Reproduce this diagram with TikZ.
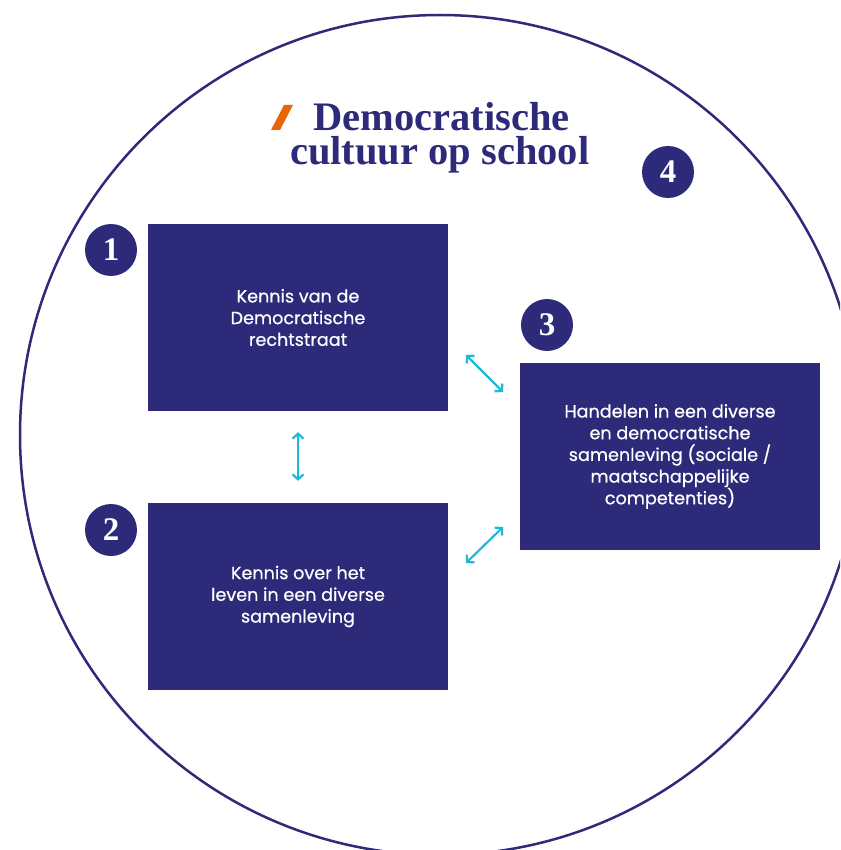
\documentclass[tikz,border=0pt]{standalone}
\usepackage{fontspec}
\setmainfont{Liberation Serif}
\newfontfamily\boxfont[FakeBold=0.6]{Poppins}
\usetikzlibrary{arrows.meta}
\definecolor{indigo}{RGB}{46,42,122}
\definecolor{cyanarrow}{RGB}{30,185,215}
\definecolor{orangeslash}{RGB}{232,101,10}
\begin{document}
\begin{tikzpicture}[x=1pt,y=-1pt,
 box/.style={fill=indigo, minimum width=300pt, minimum height=187pt, inner sep=0pt, text=white, font=\boxfont\fontsize{17.6}{21.7}\selectfont, align=center},
 badge/.style={circle, fill=indigo, minimum size=52pt, inner sep=0pt, text=white, font=\bfseries\fontsize{33}{33}\selectfont},
 link/.style={draw=cyanarrow, line width=2.2pt, {Straight Barb[length=5pt,width=11pt]}-{Straight Barb[length=5pt,width=11pt]}},
 title/.style={text=indigo, font=\bfseries\fontsize{40.5}{34}\selectfont, align=left, inner sep=0pt}]
\useasboundingbox (0,0) rectangle (840,850);
\begin{scope}
\clip (0,0) rectangle (840,850);
\node[draw=indigo, line width=2.5pt, circle, minimum size=840pt, inner sep=0pt] (ring) at (440,435) {};
\end{scope}
% title
\fill[orangeslash] (271,130) -- (280,130) -- (293,105) -- (284,105) -- cycle;
\node[title, anchor=base west] (t) at (290,165) {\hspace*{23pt}Democratische\\cultuur op school};
% boxes
\node[box] (b1) at (298,317.5) {Kennis van de\\Democratische\\rechtstraat};
\node[box] (b2) at (298,596.5) {Kennis over het\\leven in een diverse\\samenleving};
\node[box] (b3) at (670,456.5) {Handelen in een diverse\\en democratische\\samenleving (sociale /\\maatschappelijke\\competenties)};
% badges
\node[badge] (n1) at (111,250) {1};
\node[badge] (n2) at (111,530) {2};
\node[badge] (n3) at (547,325) {3};
\node[badge] (n4) at (668,172) {4};
% connectors
\coordinate (p1) at (466,355);
\coordinate (q1) at (503,392);
\coordinate (p2) at (466,563);
\coordinate (q2) at (503,527);
\draw[link, shorten <=21pt, shorten >=22pt] (b1.south) -- (b2.north);
\draw[link] (p1) -- (q1);
\draw[link] (p2) -- (q2);
\end{tikzpicture}
\end{document}
